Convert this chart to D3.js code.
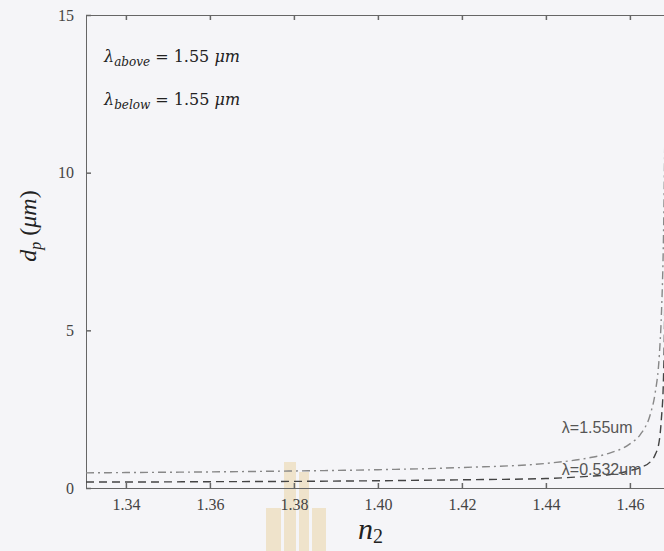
<!DOCTYPE html>
<html>
<head>
<meta charset="utf-8">
<script src="https://cdn.jsdelivr.net/npm/d3@7"></script>
<style>
  body { margin: 0; background: #f5f5f8; }
  svg { display: block; }
  .tick text { font-family: "Liberation Serif", serif; font-size: 16px; fill: #444; }
  .axis path, .axis line { stroke: #666; }
</style>
</head>
<body>
<script>
// refractive index of the medium (x axis)
var n2 = [1.3305, 1.34, 1.36, 1.38, 1.40, 1.42, 1.44, 1.45, 1.455, 1.46, 1.4625, 1.465, 1.466, 1.467, 1.4675, 1.468, 1.4683, 1.4686];
// penetration depth (um)
var dp_155 = [0.48, 0.49, 0.51, 0.54, 0.58, 0.65, 0.78, 0.95, 1.1, 1.4, 1.7, 2.4, 3.0, 4.2, 5.5, 8.0, 11, 15.5];
var dp_0532 = [0.19, 0.19, 0.20, 0.21, 0.23, 0.26, 0.30, 0.37, 0.42, 0.55, 0.65, 0.85, 1.05, 1.5, 2.2, 3.5, 6.0, 15.5];

var x_ticks = [1.34, 1.36, 1.38, 1.40, 1.42, 1.44, 1.46];
var y_ticks = [0, 5, 10, 15];
var series_labels = ["\u03bb=1.55um", "\u03bb=0.532um"];

// margins
var margin = {top: 15, right: 0, bottom: 63, left: 86};
var outer_width = 664;
var outer_height = 551;
var svg_width = outer_width - margin.left - margin.right;
var svg_height = outer_height - margin.top - margin.bottom;

var svg_root = d3.select("body")
  .append("svg")
  .attr("width", outer_width)
  .attr("height", outer_height);

// faint watermark logo from the scan
var logo = svg_root.append("g").attr("fill", "#efe3cb");
[[284, 462, 12, 89], [299, 472, 10, 79], [266, 508, 15, 43], [312, 508, 14, 43]].forEach(function(r){
  logo.append("rect").attr("x", r[0]).attr("y", r[1]).attr("width", r[2]).attr("height", r[3]);
});

var svg = svg_root.append("g")
  .attr("transform", "translate(" + margin.left + "," + margin.top + ")");

var xScale = d3.scaleLinear()
  .domain([1.3305, 1.3305 + svg_width / 4200])
  .range([0, svg_width]);

var yScale = d3.scaleLinear()
  .domain([0, 15])
  .range([svg_height, 0]);

// axes, ticks pointing inwards
var xAxis = d3.axisBottom(xScale).tickValues(x_ticks).tickSizeInner(-5).tickSizeOuter(0).tickPadding(11)
  .tickFormat(d3.format(".2f"));
var xAxisTop = d3.axisTop(xScale).tickValues(x_ticks).tickSizeInner(-5).tickSizeOuter(0).tickFormat("");
var yAxis = d3.axisLeft(yScale).tickValues(y_ticks).tickSizeInner(-5).tickSizeOuter(0).tickPadding(12);

svg.append("g").attr("class", "axis").attr("transform", "translate(0," + svg_height + ")").call(xAxis);
svg.append("g").attr("class", "axis").call(xAxisTop);
svg.append("g").attr("class", "axis").call(yAxis);
svg.selectAll(".axis .tick line").attr("stroke-width", 1.5);

// clip lines to plotting area
svg.append("clipPath").attr("id", "clip")
  .append("rect").attr("width", svg_width).attr("height", svg_height);

var dpLine = d3.line()
  .x(function(d, i){ return xScale(n2[i]); })
  .y(function(d){ return yScale(d); })
  .curve(d3.curveMonotoneX);

svg.append("path")
  .datum(dp_155)
  .attr("clip-path", "url(#clip)")
  .attr("d", dpLine)
  .attr("fill", "none")
  .attr("stroke", "#888")
  .attr("stroke-width", 1.4)
  .attr("stroke-dasharray", "8,4,2,4");

svg.append("path")
  .datum(dp_0532)
  .attr("clip-path", "url(#clip)")
  .attr("d", dpLine)
  .attr("fill", "none")
  .attr("stroke", "#444")
  .attr("stroke-width", 1.4)
  .attr("stroke-dasharray", "8,5");

// series labels
svg.append("text")
  .attr("x", xScale(1.4438)).attr("y", yScale(1.75))
  .attr("font-family", "Liberation Sans, Arial, sans-serif").attr("font-size", 16).attr("fill", "#555")
  .text(series_labels[0]);
svg.append("text")
  .attr("x", xScale(1.4438)).attr("y", yScale(0.42))
  .attr("font-family", "Liberation Sans, Arial, sans-serif").attr("font-size", 16).attr("fill", "#555")
  .text(series_labels[1]);

// wavelength annotations
function lambdaNote(y, sub){
  var t = svg.append("text")
    .attr("x", 18).attr("y", y)
    .attr("font-family", "DejaVu Serif, serif").attr("font-size", 16).attr("fill", "#222");
  t.append("tspan").attr("font-style", "italic").text("\u03bb");
  t.append("tspan").attr("font-style", "italic").attr("font-size", 12).attr("dy", 4).text(sub);
  t.append("tspan").attr("dy", -4).text(" = 1.55 ");
  t.append("tspan").attr("font-style", "italic").text("\u03bcm");
}
lambdaNote(47, "above");
lambdaNote(90, "below");

// axis titles
var yl = svg_root.append("text")
  .attr("transform", "translate(36,226) rotate(-90)")
  .attr("text-anchor", "middle")
  .attr("font-family", "Liberation Serif, serif").attr("font-size", 24).attr("fill", "#222");
yl.append("tspan").attr("font-style", "italic").text("d");
yl.append("tspan").attr("font-style", "italic").attr("font-size", 16).attr("dy", 5).text("p");
yl.append("tspan").attr("dy", -5).text(" (");
yl.append("tspan").attr("font-style", "italic").text("\u03bcm");
yl.append("tspan").text(")");

var xl = svg_root.append("text")
  .attr("x", 358).attr("y", 539)
  .attr("font-family", "Liberation Serif, serif").attr("font-size", 30).attr("fill", "#222");
xl.append("tspan").attr("font-style", "italic").text("n");
xl.append("tspan").attr("font-size", 20).attr("dy", 4).text("2");
</script>
</body>
</html>
